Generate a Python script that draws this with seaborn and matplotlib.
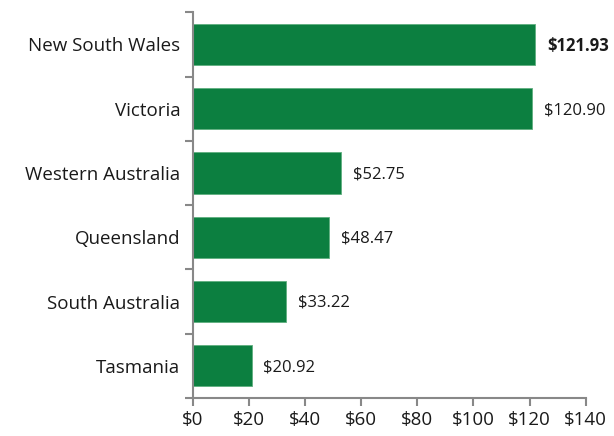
import numpy as np
import pandas as pd
import matplotlib
matplotlib.use("Agg")
import matplotlib.pyplot as plt
import seaborn as sns
from matplotlib.ticker import FixedLocator, FuncFormatter

# data
states = ["New South Wales", "Victoria", "Western Australia", "Queensland",
          "South Australia", "Tasmania"]
values = [121.93, 120.90, 52.75, 48.47, 33.22, 20.92]

df = pd.DataFrame({"state": states, "value": values})

sns.set_style("white")
plt.rcParams["font.family"] = ["Open Sans", "DejaVu Sans"]

fig = plt.figure(figsize=(6.14, 4.36), dpi=100)
ax = fig.add_axes([0.314, 0.087, 0.64, 0.885])

sns.barplot(data=df, x="value", y="state", orient="h", color="#0C7F40",
            saturation=1, width=0.64, edgecolor="#5FAF7F", linewidth=0.6, ax=ax)

ax.set_xlim(0, 140)
ax.set_ylim(len(states) - 0.5, -0.5)
ax.set_xticks(np.arange(0, 141, 20))
ax.xaxis.set_major_formatter(FuncFormatter(lambda v, p: f"${v:.0f}"))
ax.set_xlabel("")
ax.set_ylabel("")

# tick marks on category boundaries
ax.yaxis.set_minor_locator(FixedLocator(np.arange(-0.5, len(states), 1.0)))
ax.tick_params(axis="y", which="major", left=False, length=0, labelsize=13.5, pad=9,
               labelcolor="#1a1a1a")
ax.tick_params(axis="y", which="minor", left=True, length=6, width=1.5, color="#888888",
               direction="out")
ax.tick_params(axis="x", which="major", bottom=True, length=6, width=1.5, color="#888888",
               direction="out", labelsize=13.5, pad=3, labelcolor="#1a1a1a")

for side in ["top", "right"]:
    ax.spines[side].set_visible(False)
for side in ["left", "bottom"]:
    ax.spines[side].set_color("#888888")
    ax.spines[side].set_linewidth(1.5)

for i, v in enumerate(values):
    ax.annotate(f"${v:.2f}", xy=(v, i), xytext=(8.5, -1), textcoords="offset points",
                va="center", ha="left", fontsize=12, color="#1a1a1a",
                fontweight="bold" if i == 0 else "normal")

fig.savefig("out.png", dpi=100)
